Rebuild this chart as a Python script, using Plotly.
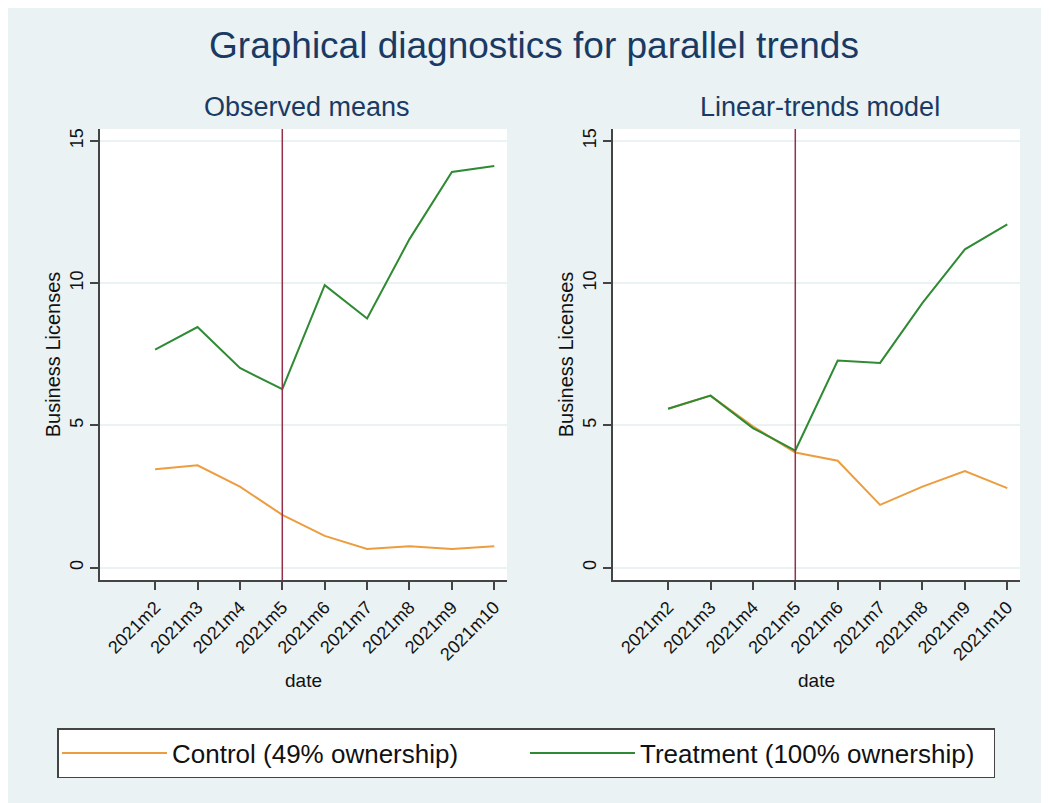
import plotly.graph_objects as go

# ---- data ----
dates = ["2021m2", "2021m3", "2021m4", "2021m5", "2021m6", "2021m7", "2021m8", "2021m9", "2021m10"]
treatment_start = "2021m5"
obs_control = [3.46, 3.60, 2.85, 1.86, 1.12, 0.66, 0.76, 0.66, 0.76]
obs_treatment = [7.67, 8.46, 7.02, 6.28, 9.93, 8.76, 11.55, 13.91, 14.12]
lin_control = [5.59, 6.05, 4.97, 4.05, 3.76, 2.21, 2.85, 3.40, 2.80]
lin_treatment = [5.59, 6.05, 4.91, 4.12, 7.28, 7.20, 9.31, 11.19, 12.07]
y_ticks = [0, 5, 10, 15]
control_name = "Control (49% ownership)"
treatment_name = "Treatment (100% ownership)"
panel_titles = ["Observed means", "Linear-trends model"]

W, H = 1049, 803
OFF = 8  # page body margin
BG = "#eaf2f3"
ORANGE = "#ec9d3f"
GREEN = "#2f8a34"
MAROON = "#96304a"
NAVY = "#1a3a63"
FONT = "Liberation Sans, Arial, sans-serif"

def px(x):
    return (x - OFF) / W

def py(y):
    return 1 - (y - OFF) / H

fig = go.Figure()

panels = [
    (obs_control, obs_treatment, "x", "y", True),
    (lin_control, lin_treatment, "x2", "y2", False),
]
for ctrl, trt, xa, ya, show in panels:
    fig.add_trace(go.Scatter(x=dates, y=ctrl, mode="lines", name=control_name,
                             line=dict(color=ORANGE, width=2), xaxis=xa, yaxis=ya,
                             showlegend=show, legendgroup="c"))
    fig.add_trace(go.Scatter(x=dates, y=trt, mode="lines", name=treatment_name,
                             line=dict(color=GREEN, width=2), xaxis=xa, yaxis=ya,
                             showlegend=show, legendgroup="t"))

x_domains = [[px(100), px(507)], [px(613), px(1020)]]
y_domain = [py(580), py(129)]

axis_common_x = dict(
    type="category", range=[-1.3, 8.3], showgrid=False, zeroline=False,
    showline=True, linecolor="#444", linewidth=1.5,
    ticks="outside", ticklen=8, tickcolor="#444", tickwidth=1.5,
    tickangle=-45, tickfont=dict(size=18, color="#111", family=FONT),
    title=dict(text="date", font=dict(size=19, color="#111", family=FONT), standoff=10),
)
axis_common_y = dict(
    range=[-0.43, 15.42], tickvals=y_ticks, showgrid=True, gridcolor=BG, gridwidth=1.5,
    zeroline=False, showline=True, linecolor="#444", linewidth=1.5,
    ticks="outside", ticklen=8, tickcolor="#444", tickwidth=1.5,
    tickangle=-90, tickfont=dict(size=18, color="#111", family=FONT),
    title=dict(text="Business Licenses", font=dict(size=20, color="#111", family=FONT), standoff=1),
)

fig.update_layout(
    xaxis=dict(domain=x_domains[0], anchor="y", **axis_common_x),
    yaxis=dict(domain=y_domain, anchor="x", **axis_common_y),
    xaxis2=dict(domain=x_domains[1], anchor="y2", **axis_common_x),
    yaxis2=dict(domain=y_domain, anchor="x2", **axis_common_y),
)

# treatment start vertical lines
for xa, ya in [("x", "y"), ("x2", "y2")]:
    fig.add_shape(type="line", xref=xa, yref=ya + " domain",
                  x0=dates.index(treatment_start), x1=dates.index(treatment_start), y0=0, y1=1,
                  line=dict(color=MAROON, width=1.5), layer="above")

for t, cx in zip(panel_titles, [307, 820]):
    fig.add_annotation(text=t, xref="paper", yref="paper", x=px(cx), y=py(107),
                       xanchor="center", yanchor="middle", showarrow=False,
                       font=dict(size=27, color=NAVY, family=FONT))

fig.update_layout(
    width=W, height=H,
    margin=dict(l=0, r=0, t=0, b=0),
    paper_bgcolor=BG, plot_bgcolor="white",
    title=dict(text="Graphical diagnostics for parallel trends", x=px(534), y=py(45),
               xanchor="center", yanchor="middle",
               font=dict(size=37, color=NAVY, family=FONT)),
    legend=dict(orientation="h", x=px(57), y=py(728), xanchor="left", yanchor="top",
                bgcolor="white", bordercolor="#444", borderwidth=1.5,
                font=dict(size=26, color="#111", family=FONT),
                entrywidth=348, entrywidthmode="pixels", itemwidth=105),
    font=dict(family=FONT),
)

fig.write_html("out.html")
